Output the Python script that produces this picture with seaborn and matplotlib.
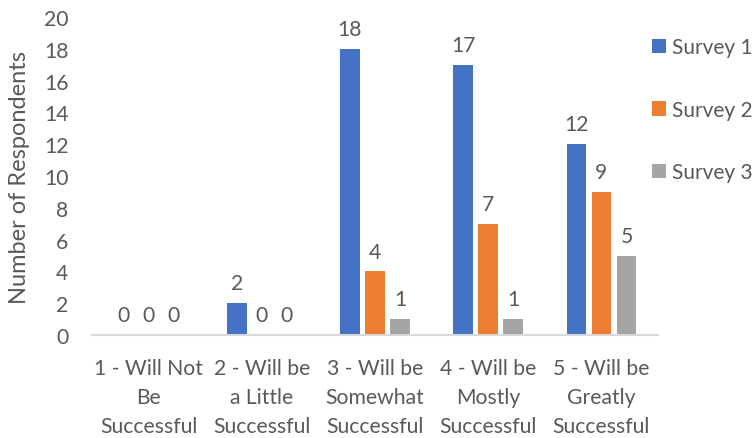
import matplotlib
matplotlib.use("Agg")
import matplotlib.pyplot as plt
import seaborn as sns
import pandas as pd
from matplotlib.patches import Patch

categories = [
    "1 - Will Not\nBe\nSuccessful",
    "2 - Will be\na Little\nSuccessful",
    "3 - Will be\nSomewhat\nSuccessful",
    "4 - Will be\nMostly\nSuccessful",
    "5 - Will be\nGreatly\nSuccessful",
]
series_names = ["Survey 1", "Survey 2", "Survey 3"]
survey1 = [0, 2, 18, 17, 12]
survey2 = [0, 0, 4, 7, 9]
survey3 = [0, 0, 1, 1, 5]
y_ticks = [0, 2, 4, 6, 8, 10, 12, 14, 16, 18, 20]

colors = ["#4472C4", "#ED7D31", "#A5A5A5"]
text_color = "#595959"

rows = []
for name, vals in zip(series_names, [survey1, survey2, survey3]):
    for cat, v in zip(categories, vals):
        rows.append({"Category": cat, "Series": name, "Count": v})
df = pd.DataFrame(rows)

sns.set_theme(style="white")
plt.rcParams["font.family"] = ["Lato", "DejaVu Sans"]

W, H = 756, 439
fig = plt.figure(figsize=(W / 100, H / 100), dpi=100)
ax = fig.add_axes([92 / W, 1 - 336 / H, (658 - 92) / W, (336 - 18) / H])

sns.barplot(data=df, x="Category", y="Count", hue="Series", palette=colors,
            width=0.664, gap=0.22, ax=ax, legend=False, saturation=1,
            edgecolor="none", linewidth=0)

fs = 15.2
for cont in ax.containers:
    ax.bar_label(cont, padding=7, fontsize=fs, color=text_color)

ax.set_ylim(0, 20)
ax.set_yticks(y_ticks)
ax.set_xlim(-0.5, 4.5)
ax.set_xlabel("")
ax.set_ylabel("Number of Respondents", fontsize=17, color=text_color)
ax.yaxis.set_label_coords((20 - 92) / (658 - 92), 0.5)
ax.yaxis.label.set_verticalalignment("center")
ax.tick_params(axis="y", length=0, pad=17, labelsize=fs, labelcolor=text_color)
ax.tick_params(axis="x", length=0, pad=16.5, labelsize=fs, labelcolor=text_color)
for lbl in ax.get_xticklabels():
    lbl.set_linespacing(1.55)

for side in ["top", "right", "left"]:
    ax.spines[side].set_visible(False)
ax.spines["bottom"].set_color("#D9D9D9")
ax.spines["bottom"].set_linewidth(1.5)

handles = [Patch(facecolor=c, edgecolor="none") for c in colors]
fig.legend(handles, series_names, loc="upper left", bbox_to_anchor=(652 / W, 1 - 38 / H),
           frameon=False, fontsize=15, labelcolor=text_color, handlelength=0.68,
           handleheight=0.68, handletextpad=0.3, labelspacing=2.05, borderaxespad=0,
           borderpad=0)

fig.savefig("out.png", dpi=100)
